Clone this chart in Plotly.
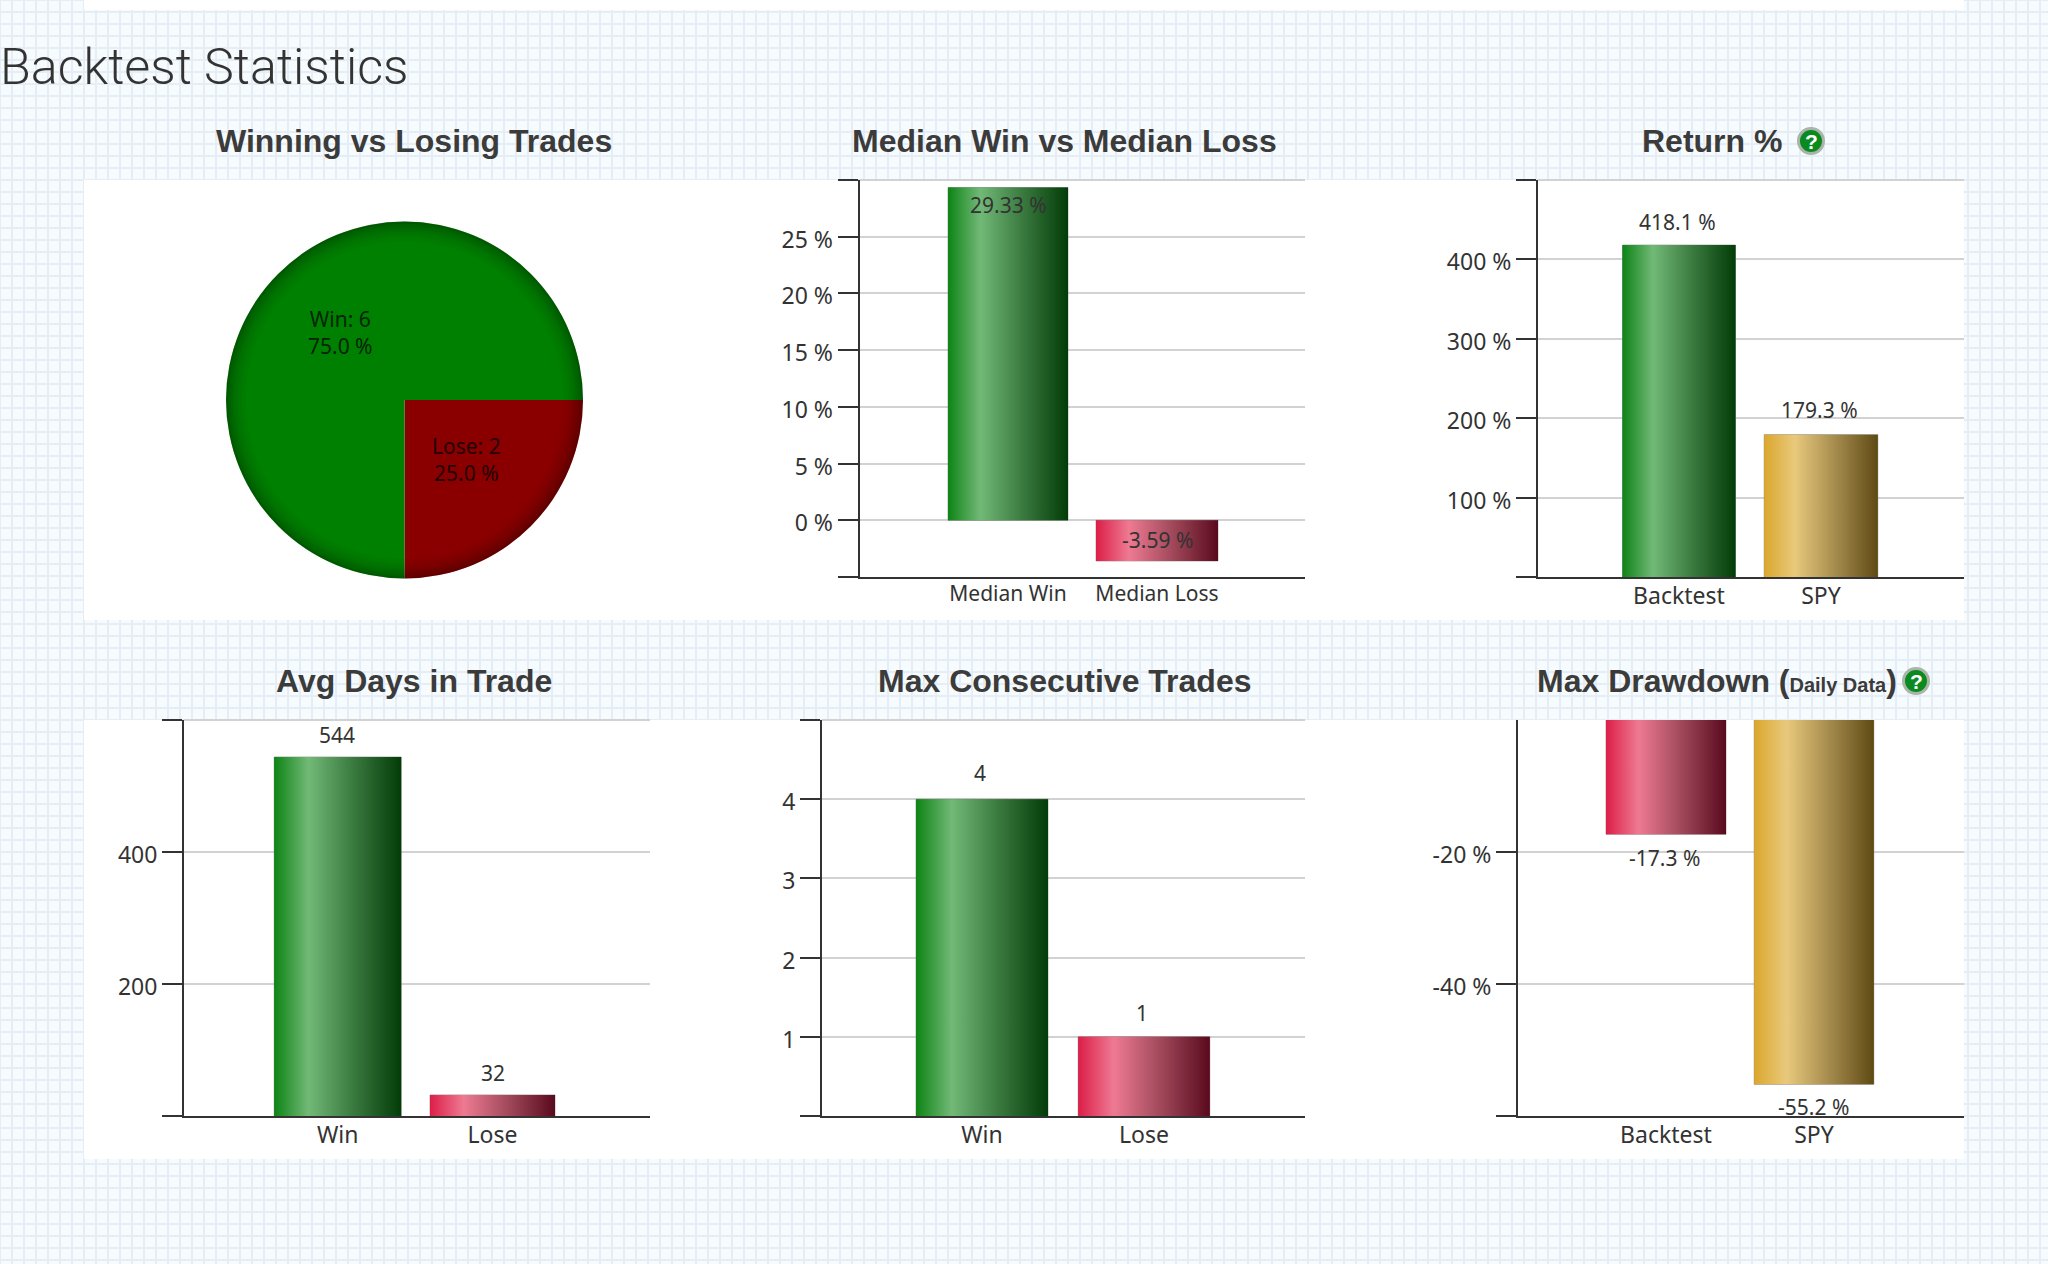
import plotly.graph_objects as go

W, H = 2048, 1264

# ---------- data ----------
pie_labels = ["Lose", "Win"]
pie_values = [2, 6]
pie_text = ["Lose: 2<br>25.0 %", "Win: 6<br>75.0 %"]

median_cats = ["Median Win", "Median Loss"]
median_vals = [29.33, -3.59]
median_text = ["29.33 %", "-3.59 %"]

return_cats = ["Backtest", "SPY"]
return_vals = [418.1, 179.3]
return_text = ["418.1 %", "179.3 %"]

days_cats = ["Win", "Lose"]
days_vals = [544, 32]
days_text = ["544", "32"]

consec_cats = ["Win", "Lose"]
consec_vals = [4, 1]
consec_text = ["4", "1"]

dd_cats = ["Backtest", "SPY"]
dd_vals = [-17.3, -55.2]
dd_text = ["-17.3 %", "-55.2 %"]

median_ticks = [-5, 0, 5, 10, 15, 20, 25, 30]
median_ticktext = ["", "0 %", "5 %", "10 %", "15 %", "20 %", "25 %", ""]
return_ticks = [0, 100, 200, 300, 400, 500]
return_ticktext = ["", "100 %", "200 %", "300 %", "400 %", ""]
days_ticks = [0, 200, 400, 600]
days_ticktext = ["", "200", "400", ""]
consec_ticks = [0, 1, 2, 3, 4, 5]
consec_ticktext = ["", "1", "2", "3", "4", ""]
dd_ticks = [-60, -40, -20]
dd_ticktext = ["", "-40 %", "-20 %"]

# ---------- styles ----------
GREEN = [[0, "#0d8415"], [0.27, "#72b977"], [0.62, "#3a7a3f"], [1, "#033c08"]]
RED = [[0, "#dc1e48"], [0.27, "#ee7a92"], [0.62, "#a24a5c"], [1, "#5a0a1e"]]
GOLD = [[0, "#dba72d"], [0.27, "#e8c97c"], [0.62, "#a68c4e"], [1, "#5f4a14"]]
MID = {id(GREEN): "#3a7a3f", id(RED): "#a24a5c", id(GOLD): "#a68c4e"}

TXT = "#333333"
AXIS = "#333333"
GRID = "#d2d2d2"
TICK_FONT = "Noto Sans"
TITLE_FONT = "Liberation Sans"


def px(x):
    return x / W


def py(y):
    return 1 - y / H


fig = go.Figure()
shapes, annotations = [], []

# ---------- page background ----------
grid_v = " ".join(f"M{px(x):.5f} 0 L{px(x):.5f} 1" for x in range(0, W + 1, 12))
grid_h = " ".join(f"M0 {py(y):.5f} L1 {py(y):.5f}" for y in range(0, H + 1, 12))
shapes.append(dict(type="path", xref="paper", yref="paper", path=grid_v + " " + grid_h,
                   line=dict(color="#e6edf6", width=2), layer="below"))


def rect(x0, y0, x1, y1, col="white"):
    shapes.append(dict(type="rect", xref="paper", yref="paper", x0=px(x0), x1=px(x1),
                       y0=py(y0), y1=py(y1), fillcolor=col, line=dict(width=0), layer="below"))


rect(84, 0, 1964, 10)
rect(84, 180, 1964, 620)
rect(84, 720, 1964, 1159)

# ---------- pie ----------
PCX, PCY, PR = 404.5, 400, 178.5
fig.add_trace(go.Pie(
    labels=pie_labels, values=pie_values, sort=False, direction="clockwise", rotation=90,
    domain=dict(x=[px(PCX - PR), px(PCX + PR)], y=[py(PCY + PR), py(PCY - PR)]),
    marker=dict(colors=["#8a0000", "#008000"], line=dict(width=0)),
    textinfo="none", showlegend=False, hoverinfo="label+value",
))
for i, a in enumerate([0.30, 0.24, 0.19, 0.14, 0.10, 0.07, 0.04, 0.02]):
    r = PR - 1.25 - 2.5 * i
    shapes.append(dict(type="circle", xref="paper", yref="paper", x0=px(PCX - r), x1=px(PCX + r),
                       y0=py(PCY + r), y1=py(PCY - r), fillcolor="rgba(0,0,0,0)",
                       line=dict(color=f"rgba(0,0,0,{a})", width=2.5), layer="above"))
for (tx, ty), t, c in zip([(466, 459), (340, 333)], pie_text, ["#250000", "#052505"]):
    annotations.append(dict(xref="paper", yref="paper", x=px(tx), y=py(ty), text=t, showarrow=False,
                            xanchor="center", yanchor="middle",
                            font=dict(family=TICK_FONT, size=21, color=c)))


# ---------- bar panels ----------
def panel(n, cats, vals, texts, ticks, ticktext, yrange, L, R, top, bot, c0, c1, bw,
          colors, offs, lab_dx=(0, 0), cat_size=23, standoff=-3, top_line=True):
    ax = "" if n == 1 else str(n)
    xa, ya = "x" + ax, "y" + ax
    unit = c1 - c0
    xs = [0, 1]
    w = [b / unit for b in bw]
    fig.add_trace(go.Bar(
        x=xs, y=vals, width=w, xaxis=xa, yaxis=ya, showlegend=False,
        marker=dict(color=[MID[id(c)] for c in colors],
                    line=dict(color="rgba(120,120,120,0.55)", width=1)),
        hovertemplate="%{y}<extra></extra>", name="",
    ))
    for x, v, wi, c in zip(xs, vals, w, colors):
        fig.add_trace(go.Scatter(
            x=[x - wi / 2, x + wi / 2, x + wi / 2, x - wi / 2, x - wi / 2],
            y=[0, 0, v, v, 0], xaxis=xa, yaxis=ya, mode="lines", fill="toself",
            fillgradient=dict(type="horizontal", colorscale=c),
            line=dict(width=0), hoverinfo="skip", showlegend=False,
        ))
    fig.layout[("xaxis" + ax)] = dict(
        domain=[px(L), px(R)], range=[(L - c0) / unit, (R - c0) / unit], anchor=ya,
        tickmode="array", tickvals=xs, ticktext=cats, ticks="", showgrid=False, zeroline=False,
        showline=True, linecolor=AXIS, linewidth=2, ticklabelstandoff=standoff,
        tickfont=dict(family=TICK_FONT, size=cat_size, color=TXT), fixedrange=True,
    )
    fig.layout[("yaxis" + ax)] = dict(
        domain=[py(bot), py(top)], range=yrange, anchor=xa,
        tickmode="array", tickvals=ticks, ticktext=ticktext, ticks="outside", ticklen=20,
        tickwidth=2, tickcolor=AXIS, showgrid=True, gridcolor=GRID, gridwidth=2, zeroline=False,
        showline=True, linecolor=AXIS, linewidth=2, ticklabelshift=3,
        tickfont=dict(family=TICK_FONT, size=23, color=TXT), fixedrange=True,
    )
    if top_line:
        shapes.append(dict(type="line", xref="paper", yref="paper", x0=px(L), x1=px(R),
                           y0=py(top), y1=py(top), line=dict(color=GRID, width=2), layer="below"))
    for x, v, t, o, dx in zip(xs, vals, texts, offs, lab_dx):
        annotations.append(dict(xref=xa, yref=ya, x=x, y=v, text=t, showarrow=False,
                                xanchor="center", yanchor="middle", xshift=dx, yshift=o,
                                font=dict(family=TICK_FONT, size=21, color=TXT)))


panel(1, median_cats, median_vals, median_text, median_ticks, median_ticktext, [-5, 30],
      859.5, 1305, 180, 577, 1008, 1157, (120, 122), [GREEN, RED], (-17, 21), cat_size=21)
panel(2, return_cats, return_vals, return_text, return_ticks, return_ticktext, [0, 500],
      1538, 1964, 180, 577, 1679, 1821, (113, 113.6), [GREEN, GOLD], (23, 25), lab_dx=(-2, -2))
panel(3, days_cats, days_vals, days_text, days_ticks, days_ticktext, [0, 600],
      184, 650, 720, 1116, 337.7, 492.5, (127, 125), [GREEN, RED], (22, 22), lab_dx=(-1, 0))
panel(4, consec_cats, consec_vals, consec_text, consec_ticks, consec_ticktext, [0, 5],
      822, 1305, 720, 1116, 982, 1144, (132, 131.6), [GREEN, RED], (26, 24), lab_dx=(-2, -2))
panel(5, dd_cats, dd_vals, dd_text, dd_ticks, dd_ticktext, [-60, 0],
      1518, 1964, 720, 1116, 1666, 1814, (120, 119.6), [RED, GOLD], (-24, -23), lab_dx=(-2, -1),
      top_line=False)


# ---------- titles ----------
def label(x, y, text, size, family=TITLE_FONT, color="#3b3b3b", anchor="center", weight=700):
    annotations.append(dict(xref="paper", yref="paper", x=px(x), y=py(y), text=text, showarrow=False,
                            xanchor=anchor, yanchor="middle",
                            font=dict(family=family, size=size, color=color, weight=weight)))


label(-2.5, 66, "Backtest Statistics", 50.2, family="Roboto", color="#333333", anchor="left", weight=300)
label(414, 141, "Winning vs Losing Trades", 32)
label(1064, 141, "Median Win vs Median Loss", 32)
label(1640, 141, "Return %", 32, anchor="left")
label(414, 681, "Avg Days in Trade", 32)
label(1064, 681, "Max Consecutive Trades", 32)
label(1535, 681, 'Max Drawdown (<span style="font-size:20px">Daily Data</span>)', 32, anchor="left")

for cx, cy in [(1811, 141), (1916, 681)]:
    r = 12.5
    shapes.append(dict(type="circle", xref="paper", yref="paper", x0=px(cx - r), x1=px(cx + r),
                       y0=py(cy + r), y1=py(cy - r), fillcolor="#0b8a20",
                       line=dict(color="#a9b5a9", width=3), layer="above"))
    label(cx, cy, "?", 21, color="white")

fig.update_layout(
    width=W, height=H, margin=dict(l=0, r=0, t=0, b=0), autosize=False,
    paper_bgcolor="#f6fbfe", plot_bgcolor="rgba(0,0,0,0)",
    barmode="overlay", shapes=shapes, annotations=annotations,
)
fig.write_html("out.html", config=dict(displayModeBar=False),
               post_script="document.body.style.margin='0';document.body.style.overflow='hidden';")
